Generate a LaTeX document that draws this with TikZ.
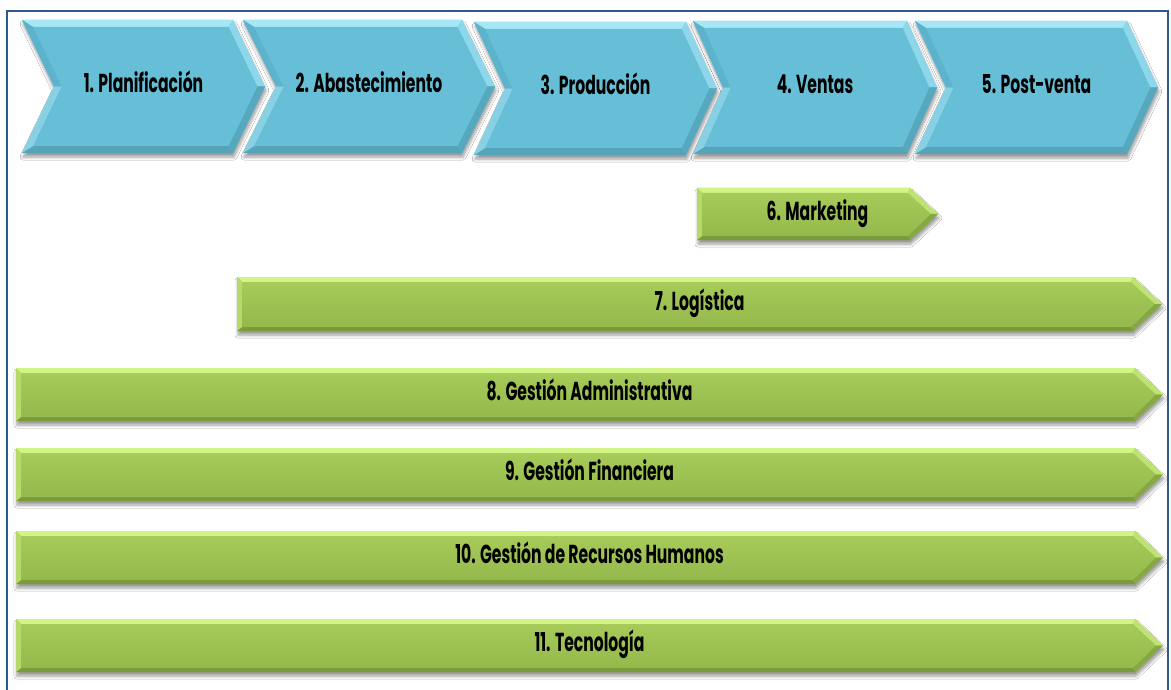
\documentclass[tikz,border=0pt]{standalone}
\usepackage{fontspec}
\newfontfamily\lblfont[FakeStretch=0.6]{Poppins}
\usetikzlibrary{shadows.blur}

% bevel facet colours, cyan process chevrons
\definecolor{cyanBase}{HTML}{67BFD7}
\definecolor{cyanTop}{HTML}{A6E7F6}
\definecolor{cyanUR}{HTML}{8ED6E9}
\definecolor{cyanLR}{HTML}{56A8BF}
\definecolor{cyanBot}{HTML}{55A4BA}
\definecolor{cyanLL}{HTML}{88D0E3}
\definecolor{cyanUL}{HTML}{5DB3CB}
% bevel facet colours, green support arrows
\definecolor{grnBase}{HTML}{9EC451}
\definecolor{grnTop}{HTML}{D2F385}
\definecolor{grnLeft}{HTML}{B6D96A}
\definecolor{grnUR}{HTML}{BFE274}
\definecolor{grnLR}{HTML}{86A842}
\definecolor{grnBot}{HTML}{7A9A3B}
\definecolor{frameBlue}{HTML}{2D5A8E}

\tikzset{
  lbl/.style={anchor=base, inner sep=0pt, text=black,
    font=\lblfont\bfseries\fontsize{26}{28}\selectfont},
  softshadow/.style={blur shadow={shadow xshift=1pt, shadow yshift=-4pt,
    shadow blur radius=3pt, shadow blur steps=6, shadow opacity=40}},
  frameline/.style={draw=frameBlue, line width=2pt},
}

% chevron: x left, x top-right corner, x point, y top, y bottom, name, text
\newcommand\procchevron[7]{%
  \pgfmathsetmacro\ym{(#4+#5)/2}%
  \pgfmathsetmacro\xn{#1+#3-#2}%
  \def\bw{7}%
  \fill[cyanBase, softshadow] (#1,#4) -- (#2,#4) -- (#3,\ym) -- (#2,#5) -- (#1,#5) -- (\xn,\ym) -- cycle;
  \coordinate (iA) at (#1+1.6*\bw,#4+\bw);
  \coordinate (iB) at (#2-0.63*\bw,#4+\bw);
  \coordinate (iC) at (#3-1.11*\bw,\ym);
  \coordinate (iD) at (#2-0.63*\bw,#5-\bw);
  \coordinate (iE) at (#1+1.6*\bw,#5-\bw);
  \coordinate (iF) at (\xn+1.11*\bw,\ym);
  \fill[cyanTop] (#1,#4) -- (#2,#4) -- (iB) -- (iA) -- cycle;
  \fill[cyanUR] (#2,#4) -- (#3,\ym) -- (iC) -- (iB) -- cycle;
  \fill[cyanLR] (#3,\ym) -- (#2,#5) -- (iD) -- (iC) -- cycle;
  \fill[cyanBot] (#2,#5) -- (#1,#5) -- (iE) -- (iD) -- cycle;
  \fill[cyanLL] (#1,#5) -- (\xn,\ym) -- (iF) -- (iE) -- cycle;
  \fill[cyanUL] (\xn,\ym) -- (#1,#4) -- (iA) -- (iF) -- cycle;
  \fill[cyanBase] (iA) -- (iB) -- (iC) -- (iD) -- (iE) -- (iF) -- cycle;
  \node[lbl] (#6) at ({(#1+#3)/2},\ym+6) {#7};
}

% pentagon arrow: x left, x top-right corner, x point, y top, y bottom, name, text
\newcommand\supparrow[7]{%
  \pgfmathsetmacro\ym{(#4+#5)/2}%
  \def\bw{5}%
  \fill[grnBase, softshadow] (#1,#4) -- (#2,#4) -- (#3,\ym) -- (#2,#5) -- (#1,#5) -- cycle;
  \coordinate (iA) at (#1+\bw,#4+\bw);
  \coordinate (iB) at (#2-0.45*\bw,#4+\bw);
  \coordinate (iC) at (#3-1.45*\bw,\ym);
  \coordinate (iD) at (#2-0.45*\bw,#5-0.8*\bw);
  \coordinate (iE) at (#1+\bw,#5-0.8*\bw);
  \fill[grnTop] (#1,#4) -- (#2,#4) -- (iB) -- (iA) -- cycle;
  \fill[grnUR] (#2,#4) -- (#3,\ym) -- (iC) -- (iB) -- cycle;
  \fill[grnLR] (#3,\ym) -- (#2,#5) -- (iD) -- (iC) -- cycle;
  \fill[grnBot] (#2,#5) -- (#1,#5) -- (iE) -- (iD) -- cycle;
  \fill[grnLeft] (#1,#5) -- (#1,#4) -- (iA) -- (iE) -- cycle;
  \shade[top color=grnBase!85!grnTop, bottom color=grnBase!94!black]
    (iA) -- (iB) -- (iC) -- (iD) -- (iE) -- cycle;
  \node[lbl] (#6) at ({(#1+#3)/2},\ym+6) {#7};
}

\begin{document}
\begin{tikzpicture}[x=1pt,y=-1pt]
  \useasboundingbox (0,0) rectangle (1171,690);
  \clip (0,0) rectangle (1171,690);
  \fill[white] (0,0) rectangle (1171,690);
  \draw[frameline] (7,11) rectangle (1168,720);

  % value chain
  \procchevron{22}{233}{265}{20}{153}{plan}{1. Planificación}
  \procchevron{243}{462}{495}{20}{153}{abast}{2. Abastecimiento}
  \procchevron{474}{686}{717}{22}{155}{prod}{3. Producción}
  \procchevron{693}{907}{937}{21}{154}{ventas}{4. Ventas}
  \procchevron{915}{1127}{1158}{21}{154}{postv}{5. Post-venta}

  % support activities
  \supparrow{697}{910}{938}{188}{240}{mkt}{6. Marketing}
  \supparrow{237}{1133}{1162}{277}{331}{logi}{7. Logística}
  \supparrow{16}{1135}{1163}{368}{421}{admin}{8. Gestión Administrativa}
  \supparrow{16}{1135}{1163}{448}{501}{finan}{9. Gestión Financiera}
  \supparrow{16}{1135}{1163}{531}{584}{rrhh}{10. Gestión de Recursos Humanos}
  \supparrow{16}{1135}{1163}{619}{672}{tecno}{11. Tecnología}
\end{tikzpicture}
\end{document}
